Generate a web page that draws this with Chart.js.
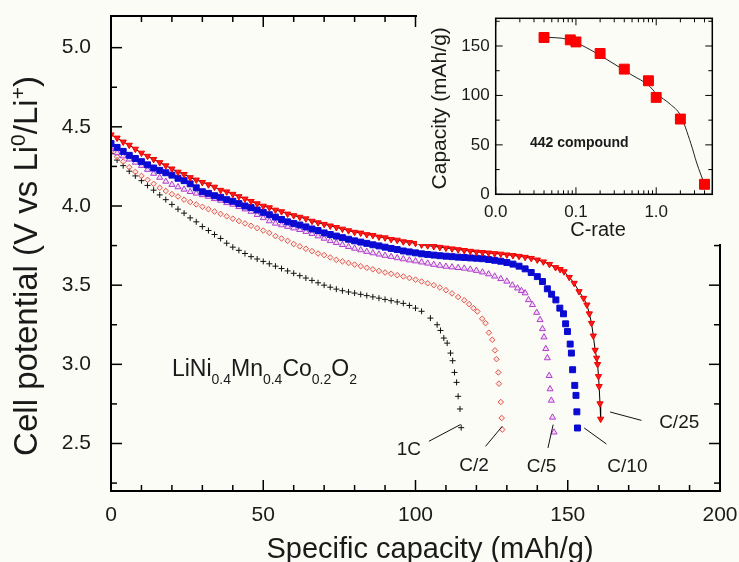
<!DOCTYPE html>
<html>
<head>
<meta charset="utf-8">
<script src="https://cdn.jsdelivr.net/npm/chart.js@4.4.1/dist/chart.umd.min.js"></script>
<style>
  html, body { margin: 0; padding: 0; background: #fcfcf6; }
  #wrap { position: relative; width: 739px; height: 562px; overflow: hidden; }
  #main { position: absolute; left: 0; top: 0; }
  #inset { position: absolute; left: 417px; top: 0; }
</style>
</head>
<body>
<div id="wrap">
  <canvas id="main" width="739" height="562"></canvas>
  <canvas id="inset" width="322" height="244"></canvas>
</div>
<script>
// ===== Discharge curves (capacity in mAh/g, potential in V) =====
const c25Cap = [0, 2, 4, 6, 8, 10, 12, 14, 16, 18, 20, 22, 24, 26, 28, 30, 32, 34, 36, 38, 40, 42, 44, 46, 48, 50, 52, 54, 56, 58, 60, 62, 64, 66, 68, 70, 72, 74, 76, 78, 80, 82, 84, 86, 88, 90, 92, 94, 96, 98, 100, 102, 104, 106, 108, 110, 112, 114, 116, 118, 120, 122, 124, 126, 128, 130, 132, 134, 136, 138, 140, 142, 144, 146,
  147.5, 148.8, 150.5, 152.1, 153.7, 155.2, 156.3, 157.1, 157.8, 158.4, 159.0, 159.5, 159.8, 160.1, 160.3, 160.6, 160.8];
const c25V = [4.45, 4.43, 4.405, 4.385, 4.36, 4.335, 4.315, 4.295, 4.275, 4.255, 4.235, 4.215, 4.20, 4.18, 4.165, 4.15, 4.135, 4.12, 4.10, 4.09, 4.075, 4.06, 4.045, 4.03, 4.015, 4.0, 3.99, 3.975, 3.965, 3.95, 3.94, 3.93, 3.92, 3.905, 3.895, 3.885, 3.875, 3.865, 3.855, 3.845, 3.835, 3.83, 3.82, 3.815, 3.805, 3.80, 3.79, 3.785, 3.775, 3.77, 3.765, 3.755, 3.75, 3.745, 3.74, 3.735, 3.73, 3.725, 3.72, 3.715, 3.71, 3.707, 3.704, 3.70, 3.697, 3.692, 3.688, 3.683, 3.677, 3.67, 3.66, 3.648, 3.632, 3.612,
  3.60, 3.586, 3.55, 3.513, 3.46, 3.418, 3.376, 3.32, 3.26, 3.18, 3.09, 3.04, 3.0, 2.924, 2.861, 2.752, 2.655];

const c10Cap = [0, 2, 4, 6, 8, 10, 12, 14, 16, 18, 20, 22, 24, 26, 28, 30, 32, 34, 36, 38, 40, 42, 44, 46, 48, 50, 52, 54, 56, 58, 60, 62, 64, 66, 68, 70, 72, 74, 76, 78, 80, 82, 84, 86, 88, 90, 92, 94, 96, 98, 100, 102, 104, 106, 108, 110, 112, 114, 116, 118, 120, 122, 124, 126, 128, 130, 132, 134, 136,
  138, 140, 141.7, 143.3, 144.7, 146.1, 147.4, 148.6, 149.3, 149.9, 150.8, 151.2, 151.6, 152.3, 152.7, 153.0, 153.2];
const c10V = [4.395, 4.37, 4.345, 4.32, 4.30, 4.28, 4.26, 4.24, 4.225, 4.21, 4.195, 4.175, 4.16, 4.14, 4.115, 4.09, 4.08, 4.065, 4.055, 4.04, 4.03, 4.015, 4.0, 3.99, 3.975, 3.96, 3.945, 3.93, 3.915, 3.90, 3.89, 3.88, 3.868, 3.855, 3.845, 3.83, 3.82, 3.81, 3.80, 3.79, 3.78, 3.772, 3.764, 3.755, 3.748, 3.74, 3.732, 3.725, 3.716, 3.71, 3.704, 3.698, 3.694, 3.69, 3.686, 3.683, 3.68, 3.677, 3.675, 3.672, 3.67, 3.667, 3.662, 3.657, 3.651, 3.643, 3.633, 3.62, 3.603,
  3.58, 3.554, 3.523, 3.477, 3.443, 3.407, 3.355, 3.319, 3.256, 3.207, 3.128, 3.071, 2.966, 2.867, 2.804, 2.70, 2.598];

const c5Cap = [0, 2, 4, 6, 8, 10, 12, 14, 16, 18, 20, 22, 24, 26, 28, 30, 32, 34, 36, 38, 40, 42, 44, 46, 48, 50, 52, 54, 56, 58, 60, 62, 64, 66, 68, 70, 72, 74, 76, 78, 80, 82, 84, 86, 88, 90, 92, 94, 96, 98, 100, 102, 104, 106, 108, 110, 112, 114, 116, 118, 120, 122, 124, 126, 128, 130,
  131.8, 133.5, 134.8, 136.0, 137.1, 138.4, 139.8, 140.9, 141.7, 142.2, 142.8, 143.3, 143.9, 144.2, 144.6, 145.0, 145.5];
const c5V = [4.36, 4.335, 4.315, 4.295, 4.275, 4.255, 4.23, 4.205, 4.18, 4.155, 4.135, 4.12, 4.105, 4.09, 4.08, 4.07, 4.06, 4.045, 4.035, 4.02, 4.01, 3.995, 3.98, 3.965, 3.945, 3.925, 3.905, 3.89, 3.88, 3.87, 3.86, 3.85, 3.838, 3.825, 3.81, 3.795, 3.78, 3.768, 3.755, 3.743, 3.732, 3.722, 3.712, 3.703, 3.695, 3.687, 3.68, 3.672, 3.665, 3.658, 3.652, 3.645, 3.638, 3.63, 3.624, 3.618, 3.614, 3.61, 3.606, 3.60, 3.592, 3.582, 3.57, 3.556, 3.54, 3.524,
  3.50, 3.481, 3.465, 3.45, 3.407, 3.376, 3.327, 3.281, 3.224, 3.172, 3.098, 3.040, 2.928, 2.844, 2.772, 2.665, 2.571];

const c2Cap = [0, 2, 4, 6, 8, 10, 12, 14, 16, 18, 20, 22, 24, 26, 28, 30, 32, 34, 36, 38, 40, 42, 44, 46, 48, 50, 52, 54, 56, 58, 60, 62, 64, 66, 68, 70, 72, 74, 76, 78, 80, 82, 84, 86, 88, 90, 92, 94, 96, 98, 100, 102, 104, 106, 108, 110, 112, 114, 116,
  117.6, 119.0, 120.3, 121.9, 123.0, 124.1, 125.2, 126.1, 126.6, 127.2, 127.4, 128.0, 128.3, 128.5];
const c2V = [4.345, 4.31, 4.28, 4.245, 4.215, 4.19, 4.165, 4.14, 4.115, 4.095, 4.075, 4.06, 4.04, 4.025, 4.01, 3.995, 3.98, 3.965, 3.95, 3.935, 3.92, 3.905, 3.89, 3.875, 3.86, 3.845, 3.83, 3.81, 3.795, 3.78, 3.76, 3.745, 3.73, 3.715, 3.70, 3.69, 3.675, 3.66, 3.65, 3.64, 3.63, 3.62, 3.61, 3.60, 3.59, 3.58, 3.572, 3.563, 3.555, 3.545, 3.535, 3.523, 3.512, 3.50, 3.485, 3.468, 3.448, 3.425, 3.405,
  3.38, 3.355, 3.334, 3.288, 3.26, 3.20, 3.155, 3.088, 3.033, 2.949, 2.878, 2.762, 2.661, 2.588];

const c1Cap = [0, 2, 4, 6, 8, 10, 12, 14, 16, 18, 20, 22, 24, 26, 28, 30, 32, 34, 36, 38, 40, 42, 44, 46, 48, 50, 52, 54, 56, 58, 60, 62, 64, 66, 68, 70, 72, 74, 76, 78, 80, 82, 84, 86, 88, 90, 92, 94, 96, 98, 100, 102,
  104.9, 107.1, 108.2, 109.3, 110.4, 111.5, 112.2, 112.8, 113.5, 114.0, 114.6, 115.0];
const c1V = [4.33, 4.29, 4.255, 4.22, 4.19, 4.16, 4.13, 4.10, 4.07, 4.04, 4.01, 3.98, 3.955, 3.925, 3.90, 3.87, 3.845, 3.82, 3.795, 3.765, 3.74, 3.72, 3.70, 3.68, 3.665, 3.65, 3.635, 3.62, 3.605, 3.59, 3.575, 3.56, 3.545, 3.53, 3.515, 3.50, 3.487, 3.475, 3.465, 3.457, 3.45, 3.442, 3.434, 3.426, 3.418, 3.41, 3.402, 3.394, 3.385, 3.372, 3.355, 3.335,
  3.292, 3.25, 3.214, 3.166, 3.134, 3.071, 3.023, 2.949, 2.886, 2.798, 2.718, 2.60];

const rateNames = ['1C', 'C/2', 'C/5', 'C/10', 'C/25'];

// main axes ticks
const capTicks = [0, 10, 20, 30, 40, 50, 60, 70, 80, 90, 100, 110, 120, 130, 140, 150, 160, 170, 180, 190, 200];
const capLabels = [0, 50, 100, 150, 200];
const vTicks = [2.25, 2.5, 2.75, 3.0, 3.25, 3.5, 3.75, 4.0, 4.25, 4.5, 4.75, 5.0];
const vLabels = [2.5, 3.0, 3.5, 4.0, 4.5, 5.0];

// ===== Rate capability (inset) =====
const cRate = [0.04, 0.085, 0.1, 0.2, 0.4, 0.8, 1.0, 2.0, 4.0];
const rateCapacity = [158.6, 156.2, 154.1, 142.4, 126.6, 114.8, 98, 76.1, 10.1];
const fitRate = [0.04, 0.08, 0.13, 0.25, 0.5, 0.8, 1.0, 1.5, 2.0, 2.7, 3.2, 4.0];
const fitCapacity = [159, 156.6, 149, 135.7, 120.5, 110.4, 102, 91, 80, 51.5, 31.6, 10];

const rateTicks = [0.01, 0.02, 0.03, 0.04, 0.05, 0.06, 0.07, 0.08, 0.09, 0.1, 0.2, 0.3, 0.4, 0.5, 0.6, 0.7, 0.8, 0.9, 1, 2, 3, 4, 5];
const rateMajor = [0.01, 0.1, 1];
const rateLabels = ['0.0', '0.1', '1.0'];
const capInsetTicks = [0, 25, 50, 75, 100, 125, 150, 175];
const capInsetLabels = [0, 50, 100, 150];

const FONT = '"Liberation Sans", Arial, Helvetica, sans-serif';
const INK = '#1a1a1a';
const BG = '#fcfcf6';
Chart.defaults.font.family = FONT;
Chart.defaults.color = INK;

const pts = (xs, ys) => xs.map((x, i) => ({ x, y: ys[i] }));

// draws a run of text pieces [text, size, dy, weight] left to right
function richText(ctx, parts, x, y, align) {
  ctx.textAlign = 'left';
  let w = 0;
  parts.forEach(p => {
    ctx.font = `${p[3] || 'normal'} ${p[1]}px ${FONT}`;
    w += ctx.measureText(p[0]).width;
  });
  let cx = align === 'center' ? x - w / 2 : x;
  parts.forEach(p => {
    ctx.font = `${p[3] || 'normal'} ${p[1]}px ${FONT}`;
    ctx.fillText(p[0], cx, y + (p[2] || 0));
    cx += ctx.measureText(p[0]).width;
  });
}

function seg(ctx, x1, y1, x2, y2) {
  ctx.beginPath();
  ctx.moveTo(x1, y1);
  ctx.lineTo(x2, y2);
  ctx.stroke();
}

// keep the plot box exactly where the padding puts it
function fixedBox(w, h) {
  return s => {
    if (w !== null) s.width = w;
    if (h !== null) s.height = h;
    s.paddingLeft = 0;
    s.paddingRight = 0;
    s.paddingTop = 0;
    s.paddingBottom = 0;
  };
}

// ===== Main plot: frame, inner ticks, titles, rate labels =====
const mainDecor = {
  id: 'mainDecor',
  beforeDraw(chart) {
    const { ctx, width, height } = chart;
    ctx.save();
    ctx.fillStyle = BG;
    ctx.fillRect(0, 0, width, height);
    ctx.restore();
  },
  afterDraw(chart) {
    const { ctx, chartArea: a, scales: { x, y } } = chart;
    ctx.save();
    ctx.strokeStyle = '#000';
    ctx.lineWidth = 2;
    ctx.strokeRect(a.left, a.top, a.right - a.left, a.bottom - a.top);

    ctx.lineWidth = 1.5;
    x.ticks.forEach(t => {
      const px = x.getPixelForValue(t.value);
      const len = capLabels.includes(t.value) ? 11 : 6;
      seg(ctx, px, a.bottom, px, a.bottom - len);
      seg(ctx, px, a.top, px, a.top + len);
    });
    y.ticks.forEach(t => {
      const py = y.getPixelForValue(t.value);
      const len = vLabels.includes(t.value) ? 11 : 6;
      seg(ctx, a.left, py, a.left + len, py);
      seg(ctx, a.right, py, a.right - len, py);
    });

    // rate labels with leader lines (data units)
    const notes = [
      { text: '1C', at: [97.8, 2.462], from: [104.4, 2.514], to: [114.8, 2.62] },
      { text: 'C/2', at: [119.2, 2.361], from: [123.0, 2.482], to: [128.5, 2.609] },
      { text: 'C/5', at: [141.4, 2.356], from: [143.5, 2.472], to: [145.2, 2.619] },
      { text: 'C/10', at: [169.6, 2.356], from: [155.4, 2.598], to: [162.7, 2.497] },
      { text: 'C/25', at: [186.6, 2.634], from: [163.9, 2.699], to: [174.2, 2.646] }
    ];
    ctx.strokeStyle = '#111';
    ctx.lineWidth = 1;
    ctx.fillStyle = INK;
    ctx.textAlign = 'center';
    ctx.textBaseline = 'middle';
    ctx.font = `19px ${FONT}`;
    notes.forEach(n => {
      seg(ctx, x.getPixelForValue(n.from[0]), y.getPixelForValue(n.from[1]),
        x.getPixelForValue(n.to[0]), y.getPixelForValue(n.to[1]));
      ctx.fillText(n.text, x.getPixelForValue(n.at[0]), y.getPixelForValue(n.at[1]));
    });

    // compound formula
    ctx.textBaseline = 'alphabetic';
    richText(ctx, [['LiNi', 23], ['0.4', 14, 8], ['Mn', 23], ['0.4', 14, 8], ['Co', 23], ['0.2', 14, 8], ['O', 23], ['2', 14, 8]],
      x.getPixelForValue(20), y.getPixelForValue(2.928), 'left');

    // axis titles
    richText(ctx, [['Specific capacity (mAh/g)', 29]], 430, 558, 'center');
    ctx.translate(37, 266);
    ctx.rotate(-Math.PI / 2);
    richText(ctx, [['Cell potential (V vs Li', 33], ['0', 21, -12], ['/Li', 33], ['+', 21, -12], [')', 33]], 0, 0, 'center');
    ctx.restore();
  }
};

new Chart(document.getElementById('main'), {
  type: 'scatter',
  data: {
    datasets: [
      {
        label: rateNames[4], data: pts(c25Cap, c25V), showLine: true,
        borderColor: '#000', borderWidth: 1, tension: 0,
        pointStyle: 'triangle', rotation: 180, pointRadius: 3.6,
        pointBackgroundColor: '#ff1a1a', pointBorderColor: '#ee0000', pointBorderWidth: 1
      },
      {
        label: rateNames[3], data: pts(c10Cap, c10V),
        pointStyle: 'rect', pointRadius: 4.2,
        backgroundColor: '#0a0ad2', borderColor: '#0a0ad2', borderWidth: 1
      },
      {
        label: rateNames[2], data: pts(c5Cap, c5V),
        pointStyle: 'triangle', pointRadius: 3.5,
        backgroundColor: 'rgba(230, 190, 240, 0.5)', borderColor: '#b03ccc', borderWidth: 1
      },
      {
        label: rateNames[1], data: pts(c2Cap, c2V),
        pointStyle: 'rectRot', pointRadius: 2.8,
        backgroundColor: 'rgba(250, 210, 205, 0.5)', borderColor: '#e2564e', borderWidth: 1
      },
      {
        label: rateNames[0], data: pts(c1Cap, c1V),
        pointStyle: 'cross', pointRadius: 3,
        borderColor: '#111', borderWidth: 1
      }
    ]
  },
  options: {
    responsive: false,
    devicePixelRatio: 1,
    animation: false,
    events: [],
    layout: { padding: { top: 16, right: 19, left: 0, bottom: 0 } },
    plugins: { legend: { display: false }, tooltip: { enabled: false } },
    scales: {
      x: {
        type: 'linear', min: 0, max: 200,
        afterBuildTicks: s => { s.ticks = capTicks.map(v => ({ value: v })); },
        afterFit: fixedBox(null, 71),
        grid: { display: false, drawTicks: false },
        border: { display: false },
        ticks: {
          autoSkip: false, maxRotation: 0, padding: 12, color: INK, font: { size: 21 },
          callback: v => capLabels.includes(v) ? String(v) : ''
        }
      },
      y: {
        type: 'linear', min: 2.2, max: 5.2,
        afterBuildTicks: s => { s.ticks = vTicks.map(v => ({ value: v })); },
        afterFit: fixedBox(111, null),
        grid: { display: false, drawTicks: false },
        border: { display: false },
        ticks: {
          autoSkip: false, padding: 20, color: INK, font: { size: 21 },
          callback: v => vLabels.includes(v) ? v.toFixed(1) : ''
        }
      }
    }
  },
  plugins: [mainDecor]
});

// ===== Inset: capacity vs C-rate =====
const insetDecor = {
  id: 'insetDecor',
  beforeDraw(chart) {
    const { ctx, width, height } = chart;
    ctx.save();
    ctx.fillStyle = BG;
    ctx.fillRect(0, 0, width, height);
    ctx.restore();
  },
  afterDraw(chart) {
    const { ctx, chartArea: a, scales: { x, y } } = chart;
    ctx.save();
    ctx.strokeStyle = '#000';
    ctx.lineWidth = 1.5;
    ctx.strokeRect(a.left, a.top, a.right - a.left, a.bottom - a.top);

    ctx.lineWidth = 1;
    x.ticks.forEach(t => {
      const px = x.getPixelForValue(t.value);
      const len = rateMajor.includes(t.value) ? 7 : 4;
      seg(ctx, px, a.bottom, px, a.bottom - len);
      seg(ctx, px, a.top, px, a.top + len);
    });
    y.ticks.forEach(t => {
      const py = y.getPixelForValue(t.value);
      const len = capInsetLabels.includes(t.value) ? 7 : 4;
      seg(ctx, a.left, py, a.left + len, py);
      seg(ctx, a.right, py, a.right - len, py);
    });

    ctx.fillStyle = INK;
    ctx.textAlign = 'center';
    ctx.textBaseline = 'middle';
    ctx.font = `bold 14px ${FONT}`;
    ctx.fillText('442 compound', x.getPixelForValue(0.11), y.getPixelForValue(52));
    ctx.font = `20px ${FONT}`;
    ctx.fillText('C-rate', (a.left + a.right) / 2 - 6, 230);

    ctx.textBaseline = 'alphabetic';
    ctx.translate(29, (a.top + a.bottom) / 2 + 2);
    ctx.rotate(-Math.PI / 2);
    richText(ctx, [['Capacity (mAh/g)', 21]], 0, 0, 'center');
    ctx.restore();
  }
};

new Chart(document.getElementById('inset'), {
  type: 'scatter',
  data: {
    datasets: [
      {
        label: 'measured', data: pts(cRate, rateCapacity),
        pointStyle: 'rect', pointRadius: 7,
        backgroundColor: '#ff0000', borderColor: '#f00000', borderWidth: 1
      },
      {
        label: 'fit', data: pts(fitRate, fitCapacity), showLine: true,
        pointRadius: 0, borderColor: '#222', borderWidth: 1,
        cubicInterpolationMode: 'monotone'
      }
    ]
  },
  options: {
    responsive: false,
    devicePixelRatio: 1,
    animation: false,
    events: [],
    layout: { padding: { top: 18.3, right: 26.7, left: 0, bottom: 0 } },
    plugins: { legend: { display: false }, tooltip: { enabled: false } },
    scales: {
      x: {
        type: 'logarithmic', min: 0.01, max: 5,
        afterBuildTicks: s => { s.ticks = rateTicks.map(v => ({ value: v })); },
        afterFit: fixedBox(null, 49.7),
        grid: { display: false, drawTicks: false },
        border: { display: false },
        ticks: {
          autoSkip: false, maxRotation: 0, padding: 8, color: INK, font: { size: 17 },
          callback: v => { const i = rateMajor.indexOf(v); return i >= 0 ? rateLabels[i] : ''; }
        }
      },
      y: {
        type: 'linear', min: 0, max: 178,
        afterBuildTicks: s => { s.ticks = capInsetTicks.map(v => ({ value: v })); },
        afterFit: fixedBox(78.7, null),
        grid: { display: false, drawTicks: false },
        border: { display: false },
        ticks: {
          autoSkip: false, padding: 6, color: INK, font: { size: 17 },
          callback: v => capInsetLabels.includes(v) ? String(v) : ''
        }
      }
    }
  },
  plugins: [insetDecor]
});
</script>
</body>
</html>
